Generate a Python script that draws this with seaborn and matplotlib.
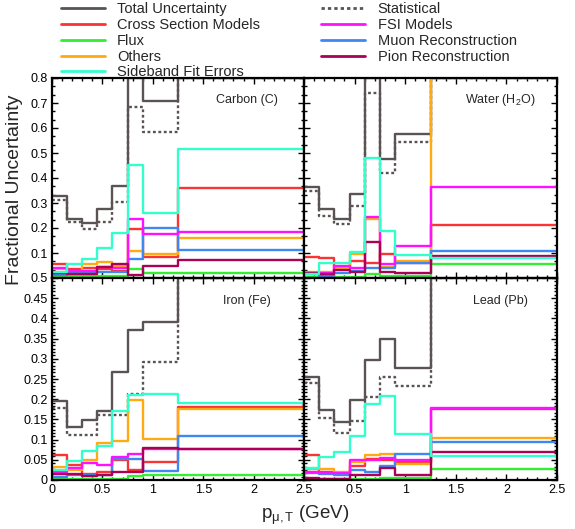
import pandas as pd
import matplotlib
matplotlib.use('Agg')
import matplotlib.pyplot as plt
import seaborn as sns
from matplotlib.lines import Line2D
from matplotlib.ticker import MultipleLocator, AutoMinorLocator, FuncFormatter

sns.set_style('ticks')
plt.rcParams['font.family'] = ['Liberation Sans', 'DejaVu Sans']
plt.rcParams['mathtext.fontset'] = 'custom'
plt.rcParams['mathtext.rm'] = 'Liberation Sans'
plt.rcParams['mathtext.it'] = 'Liberation Sans:italic'

# muon transverse momentum bins (GeV)
bin_edges = [0, 0.15, 0.3, 0.45, 0.6, 0.75, 0.9, 1.25, 2.5]

# legend order (two columns)
legend_order = ['Total Uncertainty', 'Cross Section Models', 'Flux', 'Others',
                'Sideband Fit Errors', 'Statistical', 'FSI Models',
                'Muon Reconstruction', 'Pion Reconstruction']
# drawing order
draw_order = ['Total Uncertainty', 'Statistical', 'Cross Section Models', 'Flux',
              'Others', 'Muon Reconstruction', 'FSI Models', 'Pion Reconstruction',
              'Sideband Fit Errors']

colors = {
    'Total Uncertainty': '#595353',
    'Statistical': '#595353',
    'Cross Section Models': '#f93434',
    'Flux': '#33ee33',
    'Others': '#ffaa11',
    'Sideband Fit Errors': '#33ffcc',
    'FSI Models': '#ff11ff',
    'Muon Reconstruction': '#3d88f2',
    'Pion Reconstruction': '#aa0055',
}

# values per bin (values off the top of the frame are shown at the frame)
carbon = {
    'Total Uncertainty':    [0.328, 0.236, 0.220, 0.276, 0.369, 0.800, 0.708, 0.800],
    'Statistical':          [0.312, 0.223, 0.197, 0.225, 0.304, 0.685, 0.584, 0.800],
    'Cross Section Models': [0.055, 0.035, 0.040, 0.035, 0.030, 0.195, 0.083, 0.361],
    'Flux':                 [0.008, 0.008, 0.008, 0.008, 0.008, 0.037, 0.021, 0.019],
    'Others':               [0.035, 0.025, 0.055, 0.066, 0.050, 0.108, 0.095, 0.161],
    'Sideband Fit Errors':  [0.025, 0.055, 0.075, 0.120, 0.179, 0.452, 0.259, 0.515],
    'FSI Models':           [0.040, 0.030, 0.030, 0.043, 0.040, 0.236, 0.175, 0.183],
    'Muon Reconstruction':  [0.012, 0.020, 0.020, 0.025, 0.025, 0.076, 0.199, 0.112],
    'Pion Reconstruction':  [0.020, 0.015, 0.015, 0.045, 0.055, 0.012, 0.049, 0.072],
}
water = {
    'Total Uncertainty':    [0.363, 0.275, 0.235, 0.335, 0.800, 0.475, 0.576, 0.800],
    'Statistical':          [0.349, 0.249, 0.215, 0.288, 0.739, 0.419, 0.545, 0.800],
    'Cross Section Models': [0.085, 0.079, 0.045, 0.069, 0.060, 0.095, 0.059, 0.212],
    'Flux':                 [0.005, 0.005, 0.005, 0.005, 0.015, 0.010, 0.010, 0.055],
    'Others':               [0.025, 0.025, 0.040, 0.095, 0.236, 0.045, 0.069, 0.800],
    'Sideband Fit Errors':  [0.015, 0.059, 0.059, 0.105, 0.479, 0.188, 0.092, 0.080],
    'FSI Models':           [0.020, 0.020, 0.049, 0.041, 0.245, 0.055, 0.129, 0.365],
    'Muon Reconstruction':  [0.015, 0.010, 0.020, 0.030, 0.040, 0.041, 0.060, 0.110],
    'Pion Reconstruction':  [0.020, 0.015, 0.032, 0.023, 0.143, 0.025, 0.019, 0.088],
}
iron = {
    'Total Uncertainty':    [0.196, 0.132, 0.149, 0.171, 0.267, 0.371, 0.390, 0.500],
    'Statistical':          [0.177, 0.111, 0.111, 0.161, 0.161, 0.213, 0.291, 0.500],
    'Cross Section Models': [0.062, 0.037, 0.015, 0.019, 0.050, 0.025, 0.045, 0.181],
    'Flux':                 [0.003, 0.003, 0.003, 0.003, 0.003, 0.010, 0.012, 0.012],
    'Others':               [0.031, 0.025, 0.050, 0.091, 0.097, 0.198, 0.101, 0.176],
    'Sideband Fit Errors':  [0.025, 0.047, 0.073, 0.085, 0.171, 0.210, 0.213, 0.191],
    'FSI Models':           [0.020, 0.029, 0.041, 0.037, 0.058, 0.064, 0.076, 0.077],
    'Muon Reconstruction':  [0.008, 0.012, 0.012, 0.012, 0.052, 0.052, 0.023, 0.109],
    'Pion Reconstruction':  [0.015, 0.014, 0.010, 0.012, 0.021, 0.021, 0.078, 0.077],
}
lead = {
    'Total Uncertainty':    [0.256, 0.173, 0.144, 0.198, 0.297, 0.348, 0.276, 0.500],
    'Statistical':          [0.239, 0.153, 0.116, 0.146, 0.205, 0.256, 0.233, 0.500],
    'Cross Section Models': [0.063, 0.021, 0.015, 0.035, 0.053, 0.050, 0.045, 0.175],
    'Flux':                 [0.003, 0.003, 0.003, 0.003, 0.003, 0.005, 0.005, 0.028],
    'Others':               [0.028, 0.026, 0.021, 0.045, 0.061, 0.065, 0.040, 0.103],
    'Sideband Fit Errors':  [0.030, 0.058, 0.070, 0.109, 0.188, 0.208, 0.114, 0.059],
    'FSI Models':           [0.020, 0.018, 0.018, 0.050, 0.050, 0.055, 0.050, 0.177],
    'Muon Reconstruction':  [0.017, 0.014, 0.012, 0.025, 0.021, 0.035, 0.064, 0.095],
    'Pion Reconstruction':  [0.006, 0.003, 0.002, 0.012, 0.012, 0.030, 0.012, 0.070],
}


def to_long(values):
    rows = []
    for src in draw_order:
        ys = list(values[src]) + [values[src][-1]]
        for x, y in zip(bin_edges, ys):
            rows.append({'p': x, 'frac': y, 'source': src})
    return pd.DataFrame(rows)


dashes = {s: '' for s in draw_order}
dashes['Statistical'] = (1.2, 1.1)

fig = plt.figure(figsize=(5.75, 5.29), dpi=100)
x0, xm, x1 = 52 / 575, 304 / 575, 557 / 575
yb, ym, yt = 1 - 480 / 529, 1 - 278 / 529, 1 - 78 / 529

panels = [
    (carbon, 'Carbon (C)', [x0, ym, xm - x0, yt - ym], 0.8, True, False),
    (water, r'Water (H$_{2}$O)', [xm, ym, x1 - xm, yt - ym], 0.8, False, False),
    (iron, 'Iron (Fe)', [x0, yb, xm - x0, ym - yb], 0.5, True, True),
    (lead, 'Lead (Pb)', [xm, yb, x1 - xm, ym - yb], 0.5, False, True),
]

fmt = FuncFormatter(lambda v, pos: '%g' % round(v, 3))

for values, name, rect, ymax, left, bottom in panels:
    ax = fig.add_axes(rect)
    sns.lineplot(data=to_long(values), x='p', y='frac', hue='source',
                 hue_order=draw_order, palette=colors, style='source',
                 style_order=draw_order, dashes=dashes, drawstyle='steps-post',
                 lw=1.7, errorbar=None, legend=False, ax=ax)
    ax.set_xlim(0, 2.5)
    ax.set_ylim(0, ymax)
    ax.set_xlabel('')
    ax.set_ylabel('')
    ax.xaxis.set_major_locator(MultipleLocator(0.5))
    ax.xaxis.set_minor_locator(MultipleLocator(0.1))
    if ymax > 0.6:
        ax.yaxis.set_major_locator(MultipleLocator(0.1))
        ax.yaxis.set_minor_locator(AutoMinorLocator(3))
    else:
        ax.yaxis.set_major_locator(MultipleLocator(0.05))
        ax.yaxis.set_minor_locator(AutoMinorLocator(6))
    ax.xaxis.set_major_formatter(fmt)
    ax.yaxis.set_major_formatter(fmt)
    ax.tick_params(which='both', direction='in', top=True, right=True,
                   labelsize=9, width=1.0, colors='black')
    ax.tick_params(which='major', length=4, pad=3)
    ax.tick_params(which='minor', length=2)
    ax.tick_params(labelleft=left, labelbottom=bottom)
    for sp in ax.spines.values():
        sp.set_linewidth(1.6)
        sp.set_color('black')
    if left and ymax > 0.6:
        # the 0 of the upper panel is hidden by the 0.5 of the lower one
        ax.set_yticks([t / 10 for t in range(0, 9)])
        ax.set_yticklabels([''] + ['%g' % (t / 10) for t in range(1, 9)])
    if bottom and not left:
        ax.set_xticks([0, 0.5, 1, 1.5, 2, 2.5])
        ax.set_xticklabels(['', '0.5', '1', '1.5', '2', '2.5'])
    ax.text(0.775, 0.89 if ymax > 0.6 else 0.885, name, transform=ax.transAxes,
            ha='center', va='center', fontsize=9)
    ax.set_facecolor('white')

fig.text(15 / 575, 1 - 190 / 529, 'Fractional Uncertainty', rotation=90,
         ha='center', va='center', fontsize=14)
fig.text(305 / 575, 1 - 519 / 529, r'p$_{\mathrm{μ,T}}$ (GeV)',
         ha='center', va='baseline', fontsize=13.5)

handles = []
for src in legend_order:
    ls = (0, (1.2, 1.1)) if src == 'Statistical' else '-'
    handles.append(Line2D([], [], color=colors[src], lw=2.0, linestyle=ls))
fig.legend(handles, legend_order, ncol=2, loc='upper left',
           bbox_to_anchor=(61 / 575, 1 - 2.4 / 529), frameon=False, fontsize=10.5,
           handlelength=3.0, handletextpad=0.85, columnspacing=4.2,
           labelspacing=0.12, borderpad=0, borderaxespad=0)

fig.savefig('out.png', dpi=100, facecolor='white')
